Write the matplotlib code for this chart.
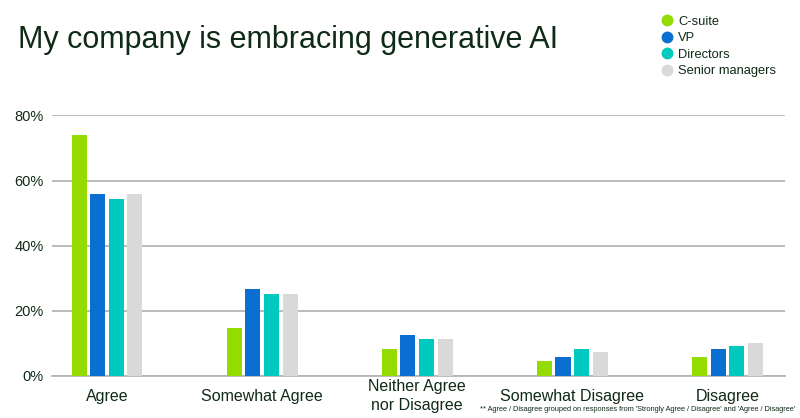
import matplotlib
matplotlib.use("Agg")
import matplotlib.pyplot as plt
from matplotlib.lines import Line2D
import numpy as np

categories = ["Agree", "Somewhat Agree", "Neither Agree\nnor Disagree", "Somewhat Disagree", "Disagree"]
series_names = ["C-suite", "VP", "Directors", "Senior managers"]
c_suite = [74.0, 14.7, 8.2, 4.5, 5.7]
vp = [56.0, 26.6, 12.5, 5.7, 8.2]
directors = [54.2, 25.1, 11.4, 8.2, 9.2]
senior = [56.0, 25.3, 11.4, 7.4, 10.2]
yticks = [0, 20, 40, 60, 80]
ytick_labels = ["0%", "20%", "40%", "60%", "80%"]

colors = ["#93db00", "#0a6fd1", "#00c9bf", "#d9d9d9"]
text_color = "#0f2a17"
plt.rcParams['font.family'] = ['Liberation Sans', 'DejaVu Sans']

fig = plt.figure(figsize=(8, 4.18), dpi=100)
ax = fig.add_axes([0.065, 0.1005, 0.916, 0.6235])

x = np.arange(len(categories))
width = 0.097
pitch = 0.12
for i, (vals, col) in enumerate(zip([c_suite, vp, directors, senior], colors)):
    ax.bar(x + (i - 1.5) * pitch, vals, width=width, color=col, zorder=3)

ax.set_ylim(0, 80)
ax.set_xlim(-0.355, 4.37)
ax.set_yticks(yticks)
ax.set_yticklabels(ytick_labels, fontsize=10.5, color=text_color)
ax.yaxis.grid(True, color="#b5b5b5", linewidth=1.3, zorder=0)
ax.set_axisbelow(True)
for s in ["top", "right", "left"]:
    ax.spines[s].set_visible(False)
ax.spines["bottom"].set_color("#b5b5b5")
ax.spines["bottom"].set_linewidth(1.3)
ax.tick_params(axis="both", length=0)
ax.tick_params(axis="y", pad=6)
ax.set_xticks(x)
ax.set_xticklabels(categories, fontsize=11.5, color=text_color, va="center",
                   linespacing=1.35)
ax.tick_params(axis="x", pad=14.5)

fig.text(0.022, 0.905, "My company is embracing generative AI", fontsize=22,
         color=text_color, ha="left", va="center")

handles = [Line2D([0], [0], marker="o", linestyle="", markersize=7.5,
                  markerfacecolor=c, markeredgecolor=c) for c in colors]
fig.legend(handles, series_names, loc="upper left", bbox_to_anchor=(0.818, 0.978),
           frameon=False, fontsize=9.3, handletextpad=0.35, labelspacing=0.35,
           handlelength=1.0, borderpad=0, labelcolor=text_color)

fig.text(0.994, 0.021,
         "** Agree / Disagree grouped on responses from 'Strongly Agree / Disagree' and 'Agree / Disagree'",
         fontsize=5.35, color=text_color, ha="right", va="center")

fig.savefig("out.png", dpi=100)
